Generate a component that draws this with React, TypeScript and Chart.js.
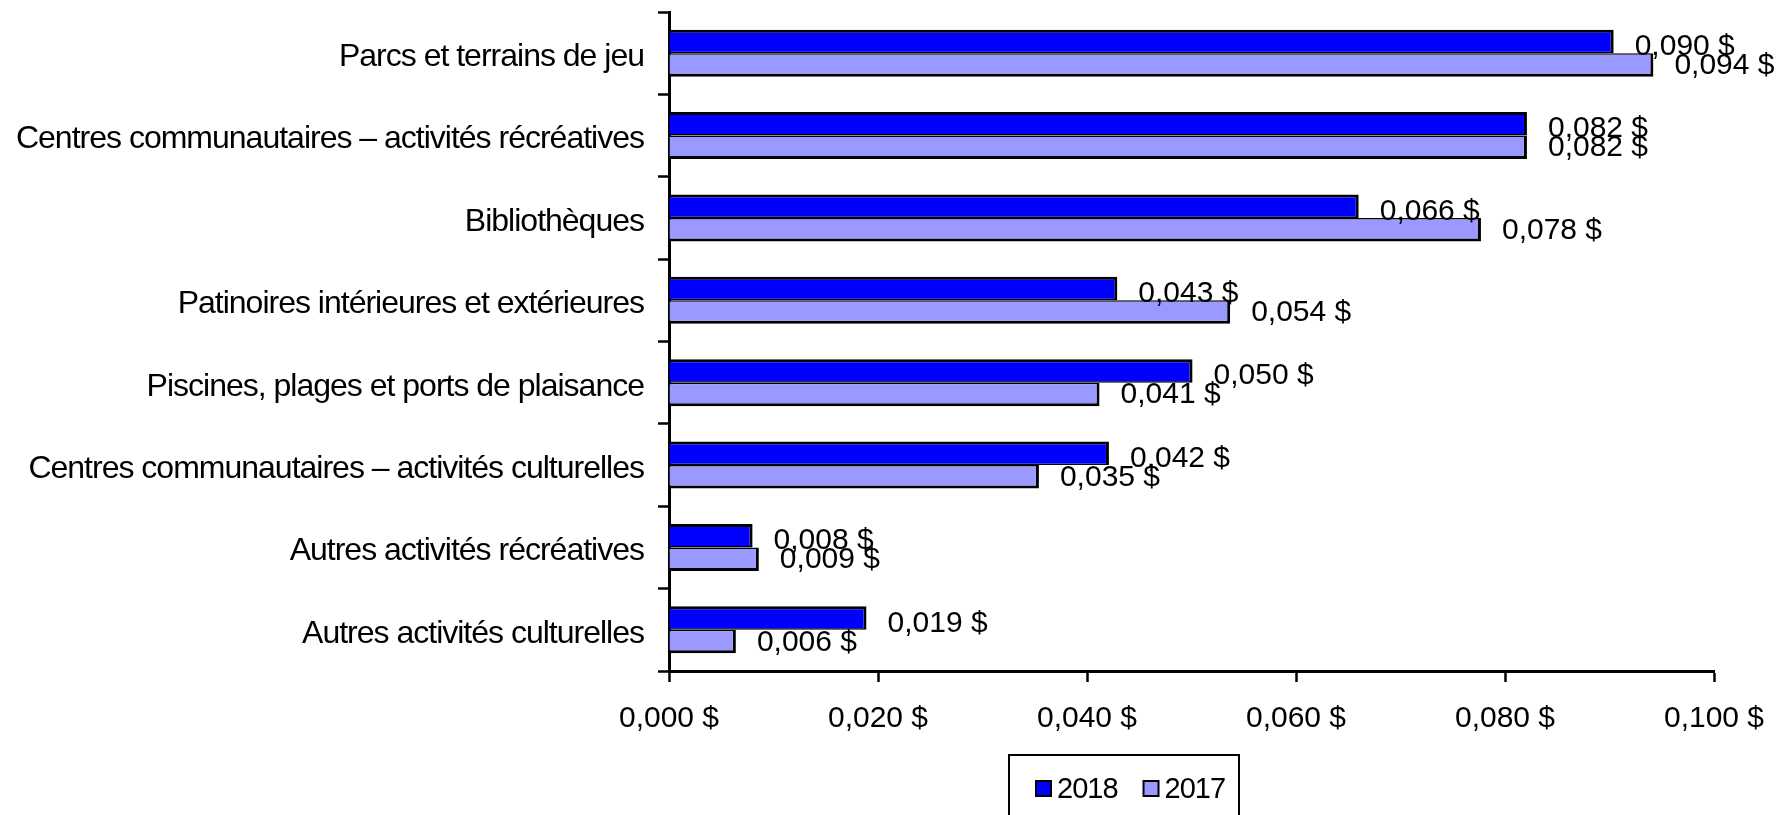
import React, { useEffect, useRef } from 'react';
import { Chart, registerables } from 'chart.js';

Chart.register(...registerables);

const categories = [
  'Parcs et terrains de jeu',
  'Centres communautaires – activités récréatives',
  'Bibliothèques',
  'Patinoires intérieures et extérieures',
  'Piscines, plages et ports de plaisance',
  'Centres communautaires – activités culturelles',
  'Autres activités récréatives',
  'Autres activités culturelles',
];
const seriesLabels = ['2018', '2017'];
const values2018 = [0.0904, 0.0821, 0.066, 0.0429, 0.0501, 0.0421, 0.008, 0.0189];
const values2017 = [0.0942, 0.0821, 0.0777, 0.0537, 0.0412, 0.0354, 0.0086, 0.0064];
const xTicks = [0, 0.02, 0.04, 0.06, 0.08, 0.1];

const FAMILY = '"Liberation Sans", Arial, sans-serif';
const fmt = (v: number) => Number(v).toFixed(3).replace('.', ',') + ' $';

const valueLabels = {
  id: 'valueLabels',
  afterDatasetsDraw(chart: any) {
    const ctx = chart.ctx;
    const yScale = chart.scales.y;
    ctx.save();
    ctx.font = `30px ${FAMILY}`;
    ctx.fillStyle = '#000';
    ctx.textAlign = 'left';
    ctx.textBaseline = 'middle';
    chart.data.datasets.forEach((ds: any, di: number) => {
      const meta = chart.getDatasetMeta(di);
      meta.data.forEach((el: any, i: number) => {
        const { x, y } = el.getProps(['x', 'y'], true);
        const center = yScale.getPixelForValue(i);
        ctx.fillText(fmt(ds.data[i]), x + 21, y + 3 + (center - y) * 0.19);
      });
    });
    ctx.restore();
  },
};

const boxLegend = {
  id: 'boxLegend',
  afterDraw(chart: any) {
    const ctx = chart.ctx;
    ctx.save();
    ctx.strokeStyle = '#000';
    ctx.lineWidth = 2;
    ctx.strokeRect(1009, 755, 230, 90);
    ctx.font = `29px ${FAMILY}`;
    (ctx as any).letterSpacing = '-1px';
    ctx.textBaseline = 'middle';
    ctx.textAlign = 'left';
    let x = 1036;
    chart.data.datasets.forEach((ds: any) => {
      ctx.fillStyle = ds.backgroundColor;
      ctx.fillRect(x, 781, 15, 15);
      ctx.lineWidth = 2;
      ctx.strokeRect(x, 781, 15, 15);
      ctx.fillStyle = '#000';
      ctx.fillText(ds.label, x + 21, 790);
      x += 21 + ctx.measureText(ds.label).width + 26;
    });
    ctx.restore();
  },
};

function condenseLabels(s: any) {
  if (s._condensed) return;
  const orig = s.drawLabels.bind(s);
  s.drawLabels = (area: any) => {
    const ctx = s.ctx;
    ctx.save();
    ctx.letterSpacing = '-1px';
    orig(area);
    ctx.restore();
  };
  s._condensed = true;
}

export default function App() {
  const ref = useRef<HTMLCanvasElement | null>(null);

  useEffect(() => {
    if (!ref.current) return;
    const chart = new Chart(ref.current, {
      type: 'bar',
      data: {
        labels: categories,
        datasets: [
          {
            label: seriesLabels[0],
            data: values2018,
            backgroundColor: '#0000FF',
            borderColor: '#000000',
            borderWidth: { top: 3, right: 3, bottom: 1.5, left: 0 },
            borderSkipped: false,
            categoryPercentage: 0.57,
            barPercentage: 1,
          },
          {
            label: seriesLabels[1],
            data: values2017,
            backgroundColor: '#9999FF',
            borderColor: '#000000',
            borderWidth: { top: 1.5, right: 3, bottom: 3, left: 0 },
            borderSkipped: false,
            categoryPercentage: 0.57,
            barPercentage: 1,
          },
        ],
      },
      options: {
        indexAxis: 'y',
        responsive: false,
        animation: false,
        layout: { padding: { top: 12, right: 78, left: 0, bottom: 0 } },
        plugins: {
          legend: { display: false },
          tooltip: { enabled: false },
          title: { display: false },
        },
        scales: {
          x: {
            type: 'linear',
            min: 0,
            max: 0.1,
            position: 'bottom',
            border: { display: true, color: '#000', width: 3 },
            grid: {
              display: true,
              drawOnChartArea: false,
              drawTicks: true,
              tickLength: 11,
              tickWidth: 2.5,
              tickColor: '#000',
              color: '#000',
            },
            ticks: {
              font: { size: 30, family: FAMILY },
              color: '#000',
              padding: 19,
              maxRotation: 0,
              callback: (v: any) => fmt(v),
            },
            afterBuildTicks: (s: any) => {
              s.ticks = xTicks.map((v) => ({ value: v }));
            },
            afterFit: (s: any) => {
              s.height = 144;
              s.paddingLeft = 0;
              s.paddingRight = 0;
            },
          },
          y: {
            type: 'category',
            border: { display: true, color: '#000', width: 3 },
            grid: {
              display: true,
              drawOnChartArea: false,
              offset: true,
              tickLength: 11,
              tickWidth: 2.5,
              tickColor: '#000',
              color: '#000',
            },
            ticks: {
              font: { size: 32, family: FAMILY },
              color: '#000',
              padding: 14,
              autoSkip: false,
              labelOffset: 4,
            },
            afterFit: (s: any) => {
              s.width = 669;
              s.paddingTop = 0;
              s.paddingBottom = 0;
              condenseLabels(s);
            },
          },
        },
      } as any,
      plugins: [valueLabels, boxLegend],
    });
    return () => chart.destroy();
  }, []);

  return (
    <div style={{ position: 'fixed', left: 0, top: 0, width: 1792, height: 815, background: '#fff' }}>
      <canvas ref={ref} width={1792} height={815} style={{ display: 'block' }} />
    </div>
  );
}
